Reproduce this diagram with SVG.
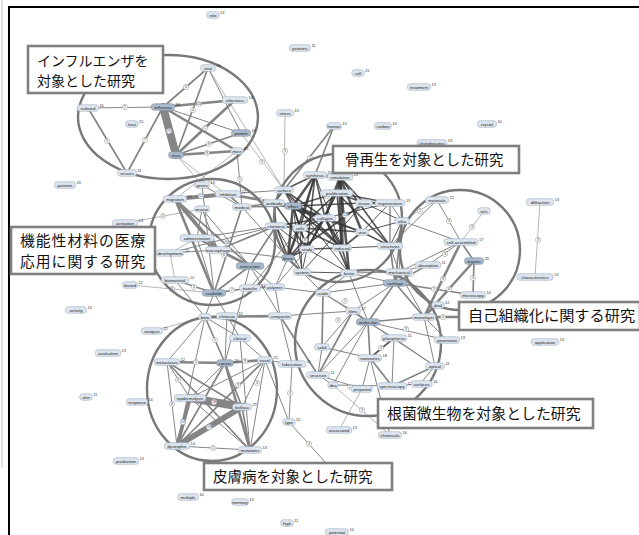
<svg xmlns="http://www.w3.org/2000/svg" width="639" height="535" viewBox="0 0 639 535">
<style>
.e line{stroke:#858585;stroke-linecap:round}
.e line.k{stroke:#333;stroke-opacity:.82}
.w0{stroke-width:.6}.w1{stroke-width:1}.w2{stroke-width:1.7}.w3{stroke-width:2.6}.w4{stroke-width:3.8}.w6{stroke-width:6}.w8{stroke-width:8}
.el circle{fill:#fff;stroke:#8a8a8a;stroke-width:.5}
.el text{font-family:"Liberation Sans",Arial,sans-serif;font-size:3.4px;fill:#333;text-anchor:middle}
.n rect{fill:#dde5ee;stroke:#9fb0c2;stroke-width:.6}
.n.d rect{fill:#a9b9cb;stroke:#7f93a8}
.n text{font-family:"Liberation Sans",Arial,sans-serif;font-size:4.3px;fill:#1c1c1c}
.n text.l{text-anchor:middle}
.n text.f{font-size:4px;fill:#333}
.ring{fill:none;stroke:#787878;stroke-width:2.4}
.box rect{fill:#fff;stroke:#808080;stroke-width:2.6}
.box text{font-family:"Noto Sans CJK JP","Noto Sans CJK SC",sans-serif;fill:#111}
</style>
<rect width="639" height="535" fill="#fff"/>
<line x1="2" y1="0" x2="2" y2="468" stroke="#c4c4c4" stroke-width="1"/>
<path d="M639 7H9V535" fill="none" stroke="#000" stroke-width="2"/>

<g id="connectors" class="e">
<line class="w1" x1="88" y1="108" x2="163" y2="107"/>
<line class="w2" x1="88" y1="108" x2="127" y2="173"/>
<line class="w2" x1="127" y1="173" x2="163" y2="107"/>
<line class="w2" x1="163" y1="107" x2="208" y2="68"/>
<line class="w3" x1="163" y1="107" x2="235" y2="100"/>
<line class="w1" x1="163" y1="107" x2="241" y2="133"/>
<line class="w3" x1="163" y1="107" x2="237" y2="151"/>
<line class="w8" x1="163" y1="107" x2="176" y2="155"/>
<line class="w2" x1="208" y1="68" x2="176" y2="155"/>
<line class="w1" x1="208" y1="68" x2="241" y2="133"/>
<line class="w0" x1="208" y1="68" x2="284" y2="190"/>
<line class="w3" x1="235" y1="100" x2="176" y2="155"/>
<line class="w2" x1="241" y1="133" x2="176" y2="155"/>
<line class="w3" x1="237" y1="151" x2="176" y2="155"/>
<line class="w0" x1="176" y1="155" x2="202" y2="185"/>
<line class="w0" x1="176" y1="155" x2="242" y2="207"/>
<line class="w1" x1="237" y1="151" x2="242" y2="207"/>
<line class="w0" x1="237" y1="151" x2="175" y2="199"/>
<line class="w0" x1="241" y1="133" x2="284" y2="190"/>
<line class="w0" x1="285" y1="113" x2="284" y2="190"/>
<line class="w2" x1="334" y1="126" x2="315" y2="175"/>
<line class="w2" x1="334" y1="126" x2="284" y2="190"/>

<line class="w4" x1="175" y1="199" x2="228" y2="194"/>
<line class="w4" x1="175" y1="199" x2="218" y2="250"/>
<line class="w2" x1="175" y1="199" x2="250" y2="266"/>
<line class="w3" x1="175" y1="199" x2="214" y2="293"/>
<line class="w2" x1="228" y1="194" x2="242" y2="207"/>
<line class="w3" x1="228" y1="194" x2="293" y2="206"/>
<line class="w1" x1="228" y1="194" x2="284" y2="190"/>
<line class="w1" x1="202" y1="185" x2="242" y2="207"/>
<line class="w1" x1="202" y1="185" x2="214" y2="293"/>
<line class="w1" x1="202" y1="209" x2="218" y2="250"/>
<line class="w1" x1="202" y1="209" x2="197" y2="238"/>
<line class="w0" x1="125" y1="223" x2="202" y2="209"/>
<line class="w1" x1="202" y1="209" x2="250" y2="266"/>
<line class="w2" x1="242" y1="207" x2="293" y2="206"/>
<line class="w2" x1="242" y1="207" x2="214" y2="293"/>
<line class="w2" x1="242" y1="207" x2="274" y2="203"/>
<line class="w1" x1="242" y1="207" x2="288" y2="258"/>
<line class="w2" x1="197" y1="238" x2="218" y2="250"/>
<line class="w2" x1="197" y1="238" x2="250" y2="266"/>
<line class="w1" x1="197" y1="238" x2="214" y2="293"/>
<line class="w1" x1="197" y1="238" x2="276" y2="226"/>
<line class="w0" x1="170" y1="253" x2="197" y2="238"/>
<line class="w1" x1="170" y1="253" x2="218" y2="250"/>
<line class="w0" x1="170" y1="253" x2="175" y2="280"/>
<line class="w1" x1="170" y1="253" x2="276" y2="226"/>
<line class="w2" x1="175" y1="280" x2="214" y2="293"/>
<line class="w0" x1="130" y1="285" x2="214" y2="293"/>
<line class="w2" x1="214" y1="293" x2="250" y2="288"/>
<line class="w2" x1="214" y1="293" x2="250" y2="266"/>
<line class="w2" x1="250" y1="288" x2="275" y2="287"/>
<line class="w1" x1="250" y1="266" x2="275" y2="287"/>
<line class="w2" x1="250" y1="266" x2="276" y2="226"/>
<line class="w3" x1="218" y1="250" x2="250" y2="266"/>
<line class="w2" x1="218" y1="250" x2="276" y2="226"/>
<line class="w1" x1="218" y1="250" x2="288" y2="258"/>
<line class="w1" x1="250" y1="288" x2="300" y2="228"/>
<line class="w1" x1="275" y1="287" x2="288" y2="258"/>
<line class="w1" x1="275" y1="287" x2="307" y2="249"/>
<line class="w1" x1="275" y1="287" x2="280" y2="316"/>
<line class="w1" x1="250" y1="266" x2="280" y2="316"/>
<line class="w1" x1="214" y1="293" x2="205" y2="317"/>
<line class="w1" x1="175" y1="280" x2="205" y2="317"/>
<line class="w1" x1="214" y1="293" x2="240" y2="338"/>
<line class="w1" x1="250" y1="266" x2="225" y2="363"/>

<line class="k w3" x1="315" y1="175" x2="340" y2="177"/>
<line class="k w3" x1="315" y1="175" x2="293" y2="206"/>
<line class="k w2" x1="315" y1="175" x2="325" y2="218"/>
<line class="k w2" x1="315" y1="175" x2="300" y2="228"/>
<line class="k w2" x1="315" y1="175" x2="307" y2="249"/>
<line class="k w2" x1="315" y1="175" x2="288" y2="258"/>
<line class="k w1" x1="315" y1="175" x2="342" y2="248"/>
<line class="k w2" x1="315" y1="175" x2="284" y2="190"/>
<line class="k w3" x1="340" y1="177" x2="325" y2="218"/>
<line class="k w4" x1="340" y1="177" x2="342" y2="248"/>
<line class="k w3" x1="340" y1="177" x2="362" y2="232"/>
<line class="k w2" x1="340" y1="177" x2="390" y2="246"/>
<line class="k w2" x1="340" y1="177" x2="364" y2="203"/>
<line class="k w2" x1="340" y1="177" x2="337" y2="193"/>
<line class="k w3" x1="340" y1="177" x2="349" y2="273"/>
<line class="k w2" x1="337" y1="193" x2="364" y2="203"/>
<line class="k w2" x1="337" y1="193" x2="390" y2="203"/>
<line class="k w2" x1="337" y1="193" x2="293" y2="206"/>
<line class="k w2" x1="337" y1="193" x2="300" y2="228"/>
<line class="k w2" x1="337" y1="193" x2="307" y2="249"/>
<line class="k w2" x1="337" y1="193" x2="342" y2="248"/>
<line class="k w2" x1="337" y1="193" x2="390" y2="246"/>
<line class="k w3" x1="364" y1="203" x2="390" y2="203"/>
<line class="k w2" x1="364" y1="203" x2="288" y2="258"/>
<line class="k w1" x1="364" y1="203" x2="302" y2="272"/>
<line class="k w2" x1="364" y1="203" x2="293" y2="206"/>
<line class="k w1" x1="390" y1="203" x2="325" y2="218"/>
<line class="k w1" x1="390" y1="203" x2="362" y2="232"/>
<line class="k w2" x1="284" y1="190" x2="293" y2="206"/>
<line class="k w2" x1="284" y1="190" x2="274" y2="203"/>
<line class="k w2" x1="284" y1="190" x2="325" y2="218"/>
<line class="k w2" x1="284" y1="190" x2="342" y2="248"/>
<line class="k w1" x1="284" y1="190" x2="349" y2="273"/>
<line class="k w2" x1="274" y1="203" x2="293" y2="206"/>
<line class="k w2" x1="274" y1="203" x2="276" y2="226"/>
<line class="k w2" x1="274" y1="203" x2="325" y2="218"/>
<line class="k w1" x1="274" y1="203" x2="362" y2="232"/>
<line class="k w2" x1="274" y1="203" x2="307" y2="249"/>
<line class="k w3" x1="293" y1="206" x2="325" y2="218"/>
<line class="k w2" x1="293" y1="206" x2="300" y2="228"/>
<line class="k w2" x1="293" y1="206" x2="307" y2="249"/>
<line class="k w3" x1="293" y1="206" x2="288" y2="258"/>
<line class="k w2" x1="293" y1="206" x2="342" y2="248"/>
<line class="k w1" x1="293" y1="206" x2="302" y2="272"/>
<line class="k w2" x1="276" y1="226" x2="300" y2="228"/>
<line class="k w2" x1="276" y1="226" x2="288" y2="258"/>
<line class="k w1" x1="276" y1="226" x2="307" y2="249"/>
<line class="k w1" x1="276" y1="226" x2="302" y2="272"/>
<line class="k w2" x1="276" y1="226" x2="325" y2="218"/>
<line class="k w2" x1="325" y1="218" x2="300" y2="228"/>
<line class="k w2" x1="325" y1="218" x2="307" y2="249"/>
<line class="k w3" x1="325" y1="218" x2="342" y2="248"/>
<line class="k w2" x1="325" y1="218" x2="362" y2="232"/>
<line class="k w2" x1="325" y1="218" x2="349" y2="273"/>
<line class="k w2" x1="325" y1="218" x2="288" y2="258"/>
<line class="k w2" x1="300" y1="228" x2="307" y2="249"/>
<line class="k w2" x1="300" y1="228" x2="288" y2="258"/>
<line class="k w2" x1="300" y1="228" x2="342" y2="248"/>
<line class="k w1" x1="300" y1="228" x2="302" y2="272"/>
<line class="k w2" x1="300" y1="228" x2="362" y2="232"/>
<line class="k w2" x1="307" y1="249" x2="342" y2="248"/>
<line class="k w2" x1="307" y1="249" x2="288" y2="258"/>
<line class="k w1" x1="307" y1="249" x2="302" y2="272"/>
<line class="k w1" x1="307" y1="249" x2="349" y2="273"/>
<line class="k w2" x1="342" y1="248" x2="362" y2="232"/>
<line class="k w2" x1="342" y1="248" x2="349" y2="273"/>
<line class="k w1" x1="342" y1="248" x2="390" y2="246"/>
<line class="k w1" x1="288" y1="258" x2="302" y2="272"/>
<line class="k w2" x1="362" y1="232" x2="390" y2="246"/>
<line class="k w1" x1="362" y1="232" x2="402" y2="221"/>
<line class="k w1" x1="402" y1="221" x2="390" y2="246"/>
<line class="k w1" x1="390" y1="246" x2="390" y2="203"/>
<line class="k w1" x1="349" y1="273" x2="302" y2="272"/>
<line class="k w1" x1="364" y1="203" x2="402" y2="221"/>

<line class="w1" x1="390" y1="203" x2="402" y2="221"/>
<line class="w2" x1="402" y1="221" x2="395" y2="283"/>
<line class="w1" x1="402" y1="221" x2="399" y2="272"/>
<line class="w1" x1="390" y1="246" x2="399" y2="272"/>
<line class="w2" x1="390" y1="246" x2="395" y2="283"/>
<line class="w1" x1="349" y1="273" x2="395" y2="283"/>
<line class="w1" x1="349" y1="273" x2="399" y2="272"/>
<line class="w1" x1="437" y1="200" x2="390" y2="246"/>
<line class="w1" x1="437" y1="200" x2="461" y2="242"/>
<line class="w0" x1="437" y1="200" x2="402" y2="221"/>
<line class="w0" x1="484" y1="211" x2="461" y2="242"/>
<line class="w2" x1="461" y1="242" x2="474" y2="261"/>
<line class="w1" x1="461" y1="242" x2="428" y2="265"/>
<line class="w1" x1="461" y1="242" x2="399" y2="272"/>
<line class="w3" x1="461" y1="242" x2="424" y2="317"/>
<line class="w3" x1="474" y1="261" x2="424" y2="317"/>
<line class="w2" x1="474" y1="261" x2="473" y2="295"/>
<line class="w2" x1="428" y1="265" x2="395" y2="283"/>
<line class="w1" x1="428" y1="265" x2="399" y2="272"/>
<line class="w2" x1="395" y1="283" x2="473" y2="295"/>
<line class="w2" x1="395" y1="283" x2="424" y2="317"/>
<line class="w1" x1="395" y1="283" x2="353" y2="311"/>
<line class="w2" x1="395" y1="283" x2="368" y2="322"/>
<line class="w1" x1="395" y1="283" x2="323" y2="293"/>
<line class="w1" x1="399" y1="272" x2="424" y2="317"/>
<line class="w1" x1="438" y1="305" x2="424" y2="317"/>
<line class="w3" x1="424" y1="317" x2="459" y2="317"/>
<line class="w0" x1="540" y1="202" x2="535" y2="277"/>
<line class="w2" x1="399" y1="272" x2="395" y2="283"/>
<line class="w1" x1="402" y1="221" x2="461" y2="242"/>

<line class="w2" x1="353" y1="311" x2="368" y2="322"/>
<line class="w1" x1="353" y1="311" x2="323" y2="293"/>
<line class="w1" x1="353" y1="311" x2="322" y2="347"/>
<line class="w2" x1="353" y1="311" x2="318" y2="375"/>
<line class="w1" x1="368" y1="322" x2="394" y2="338"/>
<line class="w2" x1="368" y1="322" x2="370" y2="358"/>
<line class="w1" x1="368" y1="322" x2="447" y2="340"/>
<line class="w2" x1="368" y1="322" x2="424" y2="317"/>
<line class="w1" x1="368" y1="322" x2="333" y2="385"/>
<line class="w1" x1="368" y1="322" x2="318" y2="375"/>
<line class="w1" x1="368" y1="322" x2="435" y2="366"/>
<line class="k w2" x1="394" y1="338" x2="370" y2="358"/>
<line class="w1" x1="394" y1="338" x2="435" y2="366"/>
<line class="w1" x1="394" y1="338" x2="392" y2="386"/>
<line class="w2" x1="370" y1="358" x2="392" y2="386"/>
<line class="w1" x1="370" y1="358" x2="390" y2="435"/>
<line class="w1" x1="370" y1="358" x2="322" y2="347"/>
<line class="w2" x1="435" y1="366" x2="392" y2="386"/>
<line class="w1" x1="435" y1="366" x2="424" y2="317"/>
<line class="w1" x1="447" y1="340" x2="424" y2="317"/>
<line class="w1" x1="392" y1="386" x2="333" y2="385"/>
<line class="w1" x1="392" y1="386" x2="420" y2="384"/>
<line class="w0" x1="362" y1="389" x2="339" y2="430"/>
<line class="w0" x1="333" y1="385" x2="390" y2="435"/>
<line class="w1" x1="318" y1="375" x2="333" y2="385"/>
<line class="w1" x1="318" y1="375" x2="322" y2="347"/>
<line class="w2" x1="322" y1="347" x2="323" y2="293"/>
<line class="w1" x1="323" y1="293" x2="302" y2="272"/>
<line class="w1" x1="323" y1="293" x2="275" y2="287"/>
<line class="w1" x1="318" y1="375" x2="362" y2="389"/>
<line class="w1" x1="370" y1="358" x2="362" y2="389"/>
<line class="w1" x1="280" y1="316" x2="353" y2="311"/>
<line class="w2" x1="280" y1="316" x2="318" y2="375"/>
<line class="w1" x1="323" y1="293" x2="368" y2="322"/>
<line class="w1" x1="349" y1="273" x2="323" y2="293"/>
<line class="w1" x1="349" y1="273" x2="368" y2="322"/>
<line class="w1" x1="420" y1="384" x2="435" y2="366"/>

<line class="w3" x1="167" y1="362" x2="225" y2="363"/>
<line class="w3" x1="225" y1="363" x2="265" y2="360"/>
<line class="w1" x1="265" y1="360" x2="292" y2="364"/>
<line class="w1" x1="167" y1="362" x2="190" y2="398"/>
<line class="w1" x1="167" y1="362" x2="177" y2="446"/>
<line class="w2" x1="167" y1="362" x2="242" y2="407"/>
<line class="w2" x1="167" y1="362" x2="250" y2="450"/>
<line class="w1" x1="225" y1="363" x2="190" y2="398"/>
<line class="w2" x1="225" y1="363" x2="242" y2="407"/>
<line class="w2" x1="225" y1="363" x2="177" y2="446"/>
<line class="w3" x1="225" y1="363" x2="250" y2="450"/>
<line class="w1" x1="265" y1="360" x2="242" y2="407"/>
<line class="w2" x1="265" y1="360" x2="177" y2="446"/>
<line class="w1" x1="265" y1="360" x2="250" y2="450"/>
<line class="w1" x1="265" y1="360" x2="190" y2="398"/>
<line class="w2" x1="205" y1="317" x2="225" y2="363"/>
<line class="w1" x1="205" y1="317" x2="167" y2="362"/>
<line class="w1" x1="205" y1="317" x2="240" y2="338"/>
<line class="w1" x1="205" y1="317" x2="177" y2="446"/>
<line class="w1" x1="227" y1="316" x2="225" y2="363"/>
<line class="w1" x1="240" y1="338" x2="250" y2="450"/>
<line class="w1" x1="240" y1="338" x2="265" y2="360"/>
<line class="w3" x1="205" y1="317" x2="280" y2="316"/>
<line class="w1" x1="177" y1="446" x2="250" y2="450"/>
<line class="w1" x1="190" y1="398" x2="250" y2="450"/>
<line class="w2" x1="242" y1="407" x2="250" y2="450"/>
<line class="w8" x1="190" y1="398" x2="242" y2="407"/>
<line class="w6" x1="242" y1="407" x2="177" y2="446"/>
<line class="w4" x1="190" y1="398" x2="177" y2="446"/>
<line class="w0" x1="152" y1="331" x2="205" y2="317"/>
<line class="w1" x1="280" y1="316" x2="292" y2="364"/>
<line class="w1" x1="289" y1="422" x2="292" y2="364"/>
<line class="w1" x1="289" y1="422" x2="265" y2="360"/>
<line class="w1" x1="289" y1="422" x2="326" y2="463"/>
</g>

<g id="edge-labels" class="el">
<circle cx="125" cy="107" r="2.6"/><text x="125" y="108.2">5</text>
<circle cx="107" cy="141" r="2.6"/><text x="107" y="142.2">5</text>
<circle cx="145" cy="140" r="2.6"/><text x="145" y="141.2">7</text>
<circle cx="186" cy="87" r="2.6"/><text x="186" y="88.2">6</text>
<circle cx="199" cy="104" r="2.6"/><text x="199" y="105.2">10</text>
<circle cx="169" cy="131" r="2.8"/><text x="169" y="132.2">25</text>
<circle cx="205" cy="128" r="2.6"/><text x="205" y="129.2">5</text>
<circle cx="209" cy="144" r="2.6"/><text x="209" y="145.2">8</text>
<circle cx="207" cy="153" r="2.6"/><text x="207" y="154.2">8</text>
<circle cx="193" cy="110" r="2.6"/><text x="193" y="111.2">4</text>
<circle cx="262" cy="162" r="2.6"/><text x="262" y="163.2">3</text>
<circle cx="285" cy="151" r="2.6"/><text x="285" y="152.2">3</text>
<circle cx="240" cy="179" r="2.6"/><text x="240" y="180.2">5</text>
<circle cx="310" cy="158" r="2.6"/><text x="310" y="159.2">2</text>
<circle cx="201" cy="196" r="2.8"/><text x="201" y="197.2">12</text>
<circle cx="163" cy="216" r="2.6"/><text x="163" y="217.2">4</text>
<circle cx="172" cy="289" r="2.6"/><text x="172" y="290.2">3</text>
<circle cx="194" cy="287" r="2.6"/><text x="194" y="288.2">3</text>
<circle cx="260" cy="200" r="2.6"/><text x="260" y="201.2">6</text>
<circle cx="224" cy="255" r="2.6"/><text x="224" y="256.2">6</text>
<circle cx="232" cy="290" r="2.6"/><text x="232" y="291.2">2</text>
<circle cx="227" cy="243" r="2.6"/><text x="227" y="244.2">10</text>
<circle cx="327" cy="196" r="2.6"/><text x="327" y="197.2">15</text>
<circle cx="345" cy="215" r="2.6"/><text x="345" y="216.2">12</text>
<circle cx="305" cy="240" r="2.6"/><text x="305" y="241.2">8</text>
<circle cx="449" cy="221" r="2.6"/><text x="449" y="222.2">3</text>
<circle cx="472" cy="227" r="2.6"/><text x="472" y="228.2">3</text>
<circle cx="445" cy="254" r="2.6"/><text x="445" y="255.2">3</text>
<circle cx="411" cy="274" r="2.6"/><text x="411" y="275.2">2</text>
<circle cx="443" cy="279" r="2.6"/><text x="443" y="280.2">8</text>
<circle cx="449" cy="289" r="2.6"/><text x="449" y="290.2">6</text>
<circle cx="473" cy="278" r="2.6"/><text x="473" y="279.2">3</text>
<circle cx="434" cy="289" r="2.6"/><text x="434" y="290.2">5</text>
<circle cx="443" cy="317" r="2.6"/><text x="443" y="318.2">4</text>
<circle cx="538" cy="240" r="2.6"/><text x="538" y="241.2">3</text>
<circle cx="420" cy="211" r="2.6"/><text x="420" y="212.2">2</text>
<circle cx="338" cy="320" r="2.6"/><text x="338" y="321.2">4</text>
<circle cx="381" cy="348" r="2.6"/><text x="381" y="349.2">3</text>
<circle cx="350" cy="387" r="2.6"/><text x="350" y="388.2">2</text>
<circle cx="362" cy="410" r="2.6"/><text x="362" y="411.2">3</text>
<circle cx="345" cy="301" r="2.6"/><text x="345" y="302.2">2</text>
<circle cx="406" cy="329" r="2.6"/><text x="406" y="330.2">3</text>
<circle cx="196" cy="362" r="2.6"/><text x="196" y="363.2">5</text>
<circle cx="245" cy="361" r="2.6"/><text x="245" y="362.2">8</text>
<circle cx="214" cy="402" r="2.8"/><text x="214" y="403.2">28</text>
<circle cx="209" cy="427" r="2.8"/><text x="209" y="428.2">19</text>
<circle cx="183" cy="422" r="2.8"/><text x="183" y="423.2">14</text>
<circle cx="213" cy="448" r="2.6"/><text x="213" y="449.2">5</text>
<circle cx="178" cy="380" r="2.6"/><text x="178" y="381.2">4</text>
<circle cx="172" cy="404" r="2.6"/><text x="172" y="405.2">4</text>
<circle cx="238" cy="385" r="2.6"/><text x="238" y="386.2">3</text>
<circle cx="257" cy="383" r="2.6"/><text x="257" y="384.2">3</text>
<circle cx="215" cy="340" r="2.6"/><text x="215" y="341.2">5</text>
<circle cx="309" cy="444" r="2.6"/><text x="309" y="445.2">4</text>
<circle cx="290" cy="393" r="2.6"/><text x="290" y="394.2">4</text>
</g>

<g id="clusters">
<ellipse class="ring" cx="168" cy="117" rx="90" ry="62"/>
<circle class="ring" cx="212" cy="242" r="63"/>
<circle class="ring" cx="338" cy="218" r="64"/>
<circle class="ring" cx="460" cy="250" r="60"/>
<circle class="ring" cx="368" cy="343" r="73"/>
<ellipse class="ring" cx="212" cy="389" rx="65" ry="72"/>
</g>

<g id="nodes">
<g id="n-role" class="n"><rect x="206.7" y="11.7" width="12.6" height="6.6" rx="3"/><text class="l" x="213" y="16.5">role</text><text class="f" x="220.1" y="13.8">13</text></g>
<g id="n-proteins" class="n"><rect x="289.4" y="44.7" width="21.2" height="6.6" rx="3"/><text class="l" x="300" y="49.5">proteins</text><text class="f" x="311.4" y="46.8">11</text></g>
<g id="n-cell" class="n"><rect x="351.7" y="69.7" width="12.6" height="6.6" rx="3"/><text class="l" x="358" y="74.5">cell</text><text class="f" x="365.1" y="71.8">15</text></g>
<g id="n-treatment" class="n"><rect x="407.3" y="83.7" width="23.4" height="6.6" rx="3"/><text class="l" x="419" y="88.5">treatment</text><text class="f" x="431.5" y="85.8">13</text></g>
<g id="n-human" class="n"><rect x="326.6" y="122.7" width="14.8" height="6.6" rx="3"/><text class="l" x="334" y="127.5">human</text><text class="f" x="342.2" y="124.8">13</text></g>
<g id="n-carbon" class="n"><rect x="374.6" y="122.7" width="16.9" height="6.6" rx="3"/><text class="l" x="383" y="127.5">carbon</text><text class="f" x="392.3" y="124.8">14</text></g>
<g id="n-crystal" class="n"><rect x="477.5" y="120.7" width="19.1" height="6.6" rx="3"/><text class="l" x="487" y="125.5">crystal</text><text class="f" x="497.4" y="122.8">10</text></g>
<g id="n-stress" class="n"><rect x="276.6" y="109.7" width="16.9" height="6.6" rx="3"/><text class="l" x="285" y="114.5">stress</text><text class="f" x="294.3" y="111.8">13</text></g>
<g id="n-chondrocytes" class="n"><rect x="417.1" y="139.7" width="29.8" height="6.6" rx="3"/><text class="l" x="432" y="144.5">chondrocytes</text><text class="f" x="447.7" y="141.8">13</text></g>
<g id="n-viral" class="n"><rect x="200.6" y="64.7" width="14.8" height="6.6" rx="3"/><text class="l" x="208" y="69.5">viral</text><text class="f" x="216.2" y="66.8">10</text></g>
<g id="n-influenza" class="n d"><rect x="151.3" y="103.7" width="23.4" height="6.6" rx="3"/><text class="l" x="163" y="108.5">influenza</text><text class="f" x="175.5" y="105.8">34</text></g>
<g id="n-isolated" class="n"><rect x="77.4" y="104.7" width="21.2" height="6.6" rx="3"/><text class="l" x="88" y="109.5">isolated</text><text class="f" x="99.4" y="106.8">10</text></g>
<g id="n-infectious" class="n"><rect x="222.3" y="96.7" width="25.5" height="6.6" rx="3"/><text class="l" x="235" y="101.5">infectious</text><text class="f" x="248.6" y="98.8">14</text></g>
<g id="n-host" class="n"><rect x="125.7" y="120.7" width="12.6" height="6.6" rx="3"/><text class="l" x="132" y="125.5">host</text><text class="f" x="139.1" y="122.8">15</text></g>
<g id="n-protein" class="n d"><rect x="231.5" y="129.7" width="19.1" height="6.6" rx="3"/><text class="l" x="241" y="134.5">protein</text><text class="f" x="251.4" y="131.8">16</text></g>
<g id="n-virus" class="n d"><rect x="168.6" y="151.7" width="14.8" height="6.6" rx="3"/><text class="l" x="176" y="156.5">virus</text></g>
<g id="n-mice" class="n"><rect x="230.7" y="147.7" width="12.6" height="6.6" rx="3"/><text class="l" x="237" y="152.5">mice</text><text class="f" x="244.1" y="149.8">15</text></g>
<g id="n-viruses" class="n"><rect x="117.5" y="169.7" width="19.1" height="6.6" rx="3"/><text class="l" x="127" y="174.5">viruses</text><text class="f" x="137.4" y="171.8">11</text></g>
<g id="n-patients" class="n"><rect x="54.4" y="181.7" width="21.2" height="6.6" rx="3"/><text class="l" x="65" y="186.5">patients</text><text class="f" x="76.4" y="183.8">13</text></g>
<g id="n-activation" class="n"><rect x="112.3" y="219.7" width="25.5" height="6.6" rx="3"/><text class="l" x="125" y="224.5">activation</text><text class="f" x="138.6" y="221.8">13</text></g>
<g id="n-based" class="n"><rect x="122.6" y="281.7" width="14.8" height="6.6" rx="3"/><text class="l" x="130" y="286.5">based</text><text class="f" x="138.2" y="283.8">12</text></g>
<g id="n-activity" class="n"><rect x="65.4" y="306.7" width="21.2" height="6.6" rx="3"/><text class="l" x="76" y="311.5">activity</text><text class="f" x="87.4" y="308.8">13</text></g>
<g id="n-analysis" class="n"><rect x="141.4" y="327.7" width="21.2" height="6.6" rx="3"/><text class="l" x="152" y="332.5">analysis</text><text class="f" x="163.4" y="329.8">22</text></g>
<g id="n-evaluation" class="n"><rect x="95.3" y="349.7" width="25.5" height="6.6" rx="3"/><text class="l" x="108" y="354.5">evaluation</text><text class="f" x="121.6" y="351.8">13</text></g>
<g id="n-skin" class="n"><rect x="79.7" y="393.7" width="12.6" height="6.6" rx="3"/><text class="l" x="86" y="398.5">skin</text><text class="f" x="93.1" y="395.8">11</text></g>
<g id="n-response" class="n"><rect x="126.4" y="398.7" width="21.2" height="6.6" rx="3"/><text class="l" x="137" y="403.5">response</text><text class="f" x="148.4" y="400.8">14</text></g>
<g id="n-production" class="n"><rect x="113.3" y="457.7" width="25.5" height="6.6" rx="3"/><text class="l" x="126" y="462.5">production</text><text class="f" x="139.6" y="459.8">13</text></g>
<g id="n-multiple" class="n"><rect x="177.4" y="493.7" width="21.2" height="6.6" rx="3"/><text class="l" x="188" y="498.5">multiple</text><text class="f" x="199.4" y="495.8">10</text></g>
<g id="n-memory" class="n"><rect x="231.6" y="498.7" width="16.9" height="6.6" rx="3"/><text class="l" x="240" y="503.5">memory</text><text class="f" x="249.3" y="500.8">13</text></g>
<g id="n-high" class="n"><rect x="280.7" y="519.7" width="12.6" height="6.6" rx="3"/><text class="l" x="287" y="524.5">high</text><text class="f" x="294.1" y="521.8">11</text></g>
<g id="n-potential" class="n"><rect x="325.3" y="528.7" width="23.4" height="6.6" rx="3"/><text class="l" x="337" y="533.5">potential</text><text class="f" x="349.5" y="530.8">10</text></g>

<g id="n-genes" class="n"><rect x="194.6" y="181.7" width="14.8" height="6.6" rx="3"/><text class="l" x="202" y="186.5">genes</text><text class="f" x="210.2" y="183.8">13</text></g>
<g id="n-migration" class="n"><rect x="163.3" y="195.7" width="23.4" height="6.6" rx="3"/><text class="l" x="175" y="200.5">migration</text><text class="f" x="187.5" y="197.8">15</text></g>
<g id="n-inhibition" class="n"><rect x="215.3" y="190.7" width="25.5" height="6.6" rx="3"/><text class="l" x="228" y="195.5">inhibition</text><text class="f" x="241.6" y="192.8">12</text></g>
<g id="n-mouse" class="n"><rect x="194.6" y="205.7" width="14.8" height="6.6" rx="3"/><text class="l" x="202" y="210.5">mouse</text></g>
<g id="n-medical" class="n"><rect x="232.5" y="203.7" width="19.1" height="6.6" rx="3"/><text class="l" x="242" y="208.5">medical</text></g>
<g id="n-administration" class="n"><rect x="180" y="234.7" width="34.1" height="6.6" rx="3"/><text class="l" x="197" y="239.5">administration</text><text class="f" x="215" y="236.8">12</text></g>
<g id="n-development" class="n"><rect x="156.2" y="249.7" width="27.7" height="6.6" rx="3"/><text class="l" x="170" y="254.5">development</text><text class="f" x="184.7" y="251.8">12</text></g>
<g id="n-macrophage" class="n"><rect x="205.3" y="246.7" width="25.5" height="6.6" rx="3"/><text class="l" x="218" y="251.5">macrophage</text></g>
<g id="n-biomaterial" class="n"><rect x="161.2" y="276.7" width="27.7" height="6.6" rx="3"/><text class="l" x="175" y="281.5">biomaterial</text><text class="f" x="189.7" y="278.8">12</text></g>
<g id="n-scaffolds" class="n d"><rect x="202.3" y="289.7" width="23.4" height="6.6" rx="3"/><text class="l" x="214" y="294.5">scaffolds</text></g>
<g id="n-interaction" class="n d"><rect x="236.2" y="262.7" width="27.7" height="6.6" rx="3"/><text class="l" x="250" y="267.5">interaction</text></g>
<g id="n-transfer" class="n"><rect x="239.4" y="284.7" width="21.2" height="6.6" rx="3"/><text class="l" x="250" y="289.5">transfer</text><text class="f" x="261.4" y="286.8">11</text></g>
<g id="n-polymer" class="n"><rect x="265.5" y="283.7" width="19.1" height="6.6" rx="3"/><text class="l" x="275" y="288.5">polymer</text></g>

<g id="n-surface" class="n"><rect x="274.5" y="186.7" width="19.1" height="6.6" rx="3"/><text class="l" x="284" y="191.5">surface</text></g>
<g id="n-synthesis" class="n"><rect x="303.3" y="171.7" width="23.4" height="6.6" rx="3"/><text class="l" x="315" y="176.5">synthesis</text><text class="f" x="327.5" y="173.8">20</text></g>
<g id="n-simulation" class="n"><rect x="327.3" y="173.7" width="25.5" height="6.6" rx="3"/><text class="l" x="340" y="178.5">simulation</text><text class="f" x="353.6" y="175.8">23</text></g>
<g id="n-antibody" class="n"><rect x="263.4" y="199.7" width="21.2" height="6.6" rx="3"/><text class="l" x="274" y="204.5">antibody</text></g>
<g id="n-effect" class="n d"><rect x="284.6" y="202.7" width="16.9" height="6.6" rx="3"/><text class="l" x="293" y="207.5">effect</text></g>
<g id="n-chemical" class="n"><rect x="265.4" y="222.7" width="21.2" height="6.6" rx="3"/><text class="l" x="276" y="227.5">chemical</text></g>
<g id="n-proliferation" class="n"><rect x="321" y="189.7" width="32" height="6.6" rx="3"/><text class="l" x="337" y="194.5">proliferation</text></g>
<g id="n-tissue" class="n"><rect x="355.6" y="199.7" width="16.9" height="6.6" rx="3"/><text class="l" x="364" y="204.5">tissue</text></g>
<g id="n-regeneration" class="n"><rect x="375.1" y="199.7" width="29.8" height="6.6" rx="3"/><text class="l" x="390" y="204.5">regeneration</text><text class="f" x="405.7" y="201.8">13</text></g>
<g id="n-collagen" class="n"><rect x="314.4" y="214.7" width="21.2" height="6.6" rx="3"/><text class="l" x="325" y="219.5">collagen</text></g>
<g id="n-cells" class="n"><rect x="292.6" y="224.7" width="14.8" height="6.6" rx="3"/><text class="l" x="300" y="229.5">cells</text></g>
<g id="n-induced" class="n"><rect x="332.5" y="244.7" width="19.1" height="6.6" rx="3"/><text class="l" x="342" y="249.5">induced</text></g>
<g id="n-study" class="n"><rect x="299.6" y="245.7" width="14.8" height="6.6" rx="3"/><text class="l" x="307" y="250.5">study</text></g>
<g id="n-bone" class="n d"><rect x="281.7" y="254.7" width="12.6" height="6.6" rx="3"/><text class="l" x="288" y="259.5">bone</text></g>
<g id="n-factor" class="n"><rect x="340.6" y="269.7" width="16.9" height="6.6" rx="3"/><text class="l" x="349" y="274.5">factor</text></g>
<g id="n-system" class="n"><rect x="293.6" y="268.7" width="16.9" height="6.6" rx="3"/><text class="l" x="302" y="273.5">system</text></g>
<g id="n-vivo" class="n"><rect x="355.7" y="228.7" width="12.6" height="6.6" rx="3"/><text class="l" x="362" y="233.5">vivo</text></g>
<g id="n-ultra" class="n"><rect x="394.6" y="217.7" width="14.8" height="6.6" rx="3"/><text class="l" x="402" y="222.5">ultra</text></g>
<g id="n-structures" class="n"><rect x="377.3" y="242.7" width="25.5" height="6.6" rx="3"/><text class="l" x="390" y="247.5">structures</text></g>
<g id="n-mechanical" class="n"><rect x="386.3" y="268.7" width="25.5" height="6.6" rx="3"/><text class="l" x="399" y="273.5">mechanical</text></g>
<g id="n-cartilage" class="n d"><rect x="383.3" y="279.7" width="23.4" height="6.6" rx="3"/><text class="l" x="395" y="284.5">cartilage</text></g>

<g id="n-materials" class="n"><rect x="425.3" y="196.7" width="23.4" height="6.6" rx="3"/><text class="l" x="437" y="201.5">materials</text><text class="f" x="449.5" y="198.8">12</text></g>
<g id="n-rats" class="n"><rect x="477.7" y="207.7" width="12.6" height="6.6" rx="3"/><text class="l" x="484" y="212.5">rats</text></g>
<g id="n-self-assembled" class="n"><rect x="444" y="238.7" width="34.1" height="6.6" rx="3"/><text class="l" x="461" y="243.5">self-assembled</text><text class="f" x="479" y="240.8">17</text></g>
<g id="n-organic" class="n d"><rect x="464.5" y="257.7" width="19.1" height="6.6" rx="3"/><text class="l" x="474" y="262.5">organic</text><text class="f" x="484.4" y="259.8">23</text></g>
<g id="n-absorption" class="n"><rect x="415.3" y="261.7" width="25.5" height="6.6" rx="3"/><text class="l" x="428" y="266.5">absorption</text><text class="f" x="441.6" y="263.8">11</text></g>
<g id="n-microscopy" class="n"><rect x="460.3" y="291.7" width="25.5" height="6.6" rx="3"/><text class="l" x="473" y="296.5">microscopy</text><text class="f" x="486.6" y="293.8">10</text></g>
<g id="n-diffraction" class="n"><rect x="526.2" y="198.7" width="27.7" height="6.6" rx="3"/><text class="l" x="540" y="203.5">diffraction</text><text class="f" x="554.7" y="200.8">13</text></g>
<g id="n-characteristics" class="n"><rect x="516.9" y="273.7" width="36.3" height="6.6" rx="3"/><text class="l" x="535" y="278.5">characteristics</text><text class="f" x="554" y="275.8">13</text></g>
<g id="n-application" class="n"><rect x="531.2" y="338.7" width="27.7" height="6.6" rx="3"/><text class="l" x="545" y="343.5">application</text><text class="f" x="559.7" y="340.8">13</text></g>
<g id="n-dual" class="n"><rect x="431.7" y="301.7" width="12.6" height="6.6" rx="3"/><text class="l" x="438" y="306.5">dual</text><text class="f" x="445.1" y="303.8">12</text></g>
<g id="n-monolayer" class="n"><rect x="412.3" y="313.7" width="23.4" height="6.6" rx="3"/><text class="l" x="424" y="318.5">monolayer</text></g>
<g id="n-generation" class="n"><rect x="434.3" y="336.7" width="25.5" height="6.6" rx="3"/><text class="l" x="447" y="341.5">generation</text><text class="f" x="460.6" y="338.8">13</text></g>

<g id="n-films" class="n"><rect x="345.6" y="307.7" width="14.8" height="6.6" rx="3"/><text class="l" x="353" y="312.5">films</text><text class="f" x="361.2" y="309.8">17</text></g>
<g id="n-molecular" class="n d"><rect x="356.3" y="318.7" width="23.4" height="6.6" rx="3"/><text class="l" x="368" y="323.5">molecular</text></g>
<g id="n-phosphorus" class="n"><rect x="381.3" y="334.7" width="25.5" height="6.6" rx="3"/><text class="l" x="394" y="339.5">phosphorus</text><text class="f" x="407.6" y="336.8">11</text></g>
<g id="n-nanowires" class="n"><rect x="358.3" y="354.7" width="23.4" height="6.6" rx="3"/><text class="l" x="370" y="359.5">nanowires</text><text class="f" x="382.5" y="356.8">18</text></g>
<g id="n-optical" class="n"><rect x="425.5" y="362.7" width="19.1" height="6.6" rx="3"/><text class="l" x="435" y="367.5">optical</text><text class="f" x="445.4" y="364.8">11</text></g>
<g id="n-structure" class="n"><rect x="306.3" y="371.7" width="23.4" height="6.6" rx="3"/><text class="l" x="318" y="376.5">structure</text><text class="f" x="330.5" y="373.8">11</text></g>
<g id="n-solid" class="n"><rect x="314.6" y="343.7" width="14.8" height="6.6" rx="3"/><text class="l" x="322" y="348.5">solid</text></g>
<g id="n-oxide" class="n"><rect x="315.6" y="289.7" width="14.8" height="6.6" rx="3"/><text class="l" x="323" y="294.5">oxide</text></g>
<g id="n-dna" class="n"><rect x="327.8" y="381.7" width="10.5" height="6.6" rx="3"/><text class="l" x="333" y="386.5">dna</text></g>
<g id="n-prepared" class="n"><rect x="351.4" y="385.7" width="21.2" height="6.6" rx="3"/><text class="l" x="362" y="390.5">prepared</text></g>
<g id="n-spectroscopy" class="n"><rect x="377.1" y="382.7" width="29.8" height="6.6" rx="3"/><text class="l" x="392" y="387.5">spectroscopy</text><text class="f" x="407.5" y="384.6">12</text></g>
<g id="n-surfaces" class="n"><rect x="411" y="380.7" width="21.2" height="6.6" rx="3"/><text class="l" x="421.6" y="385.5">surfaces</text><text class="f" x="433" y="382.8">16</text></g>
<g id="n-associated" class="n"><rect x="326.3" y="426.7" width="25.5" height="6.6" rx="3"/><text class="l" x="339" y="431.5">associated</text><text class="f" x="352.6" y="428.8">13</text></g>
<g id="n-chemicals" class="n"><rect x="378.3" y="431.7" width="23.4" height="6.6" rx="3"/><text class="l" x="390" y="436.5">chemicals</text><text class="f" x="402.5" y="433.8">16</text></g>

<g id="n-composite" class="n"><rect x="268.3" y="312.7" width="23.4" height="6.6" rx="3"/><text class="l" x="280" y="317.5">composite</text></g>
<g id="n-beta" class="n"><rect x="198.7" y="313.7" width="12.6" height="6.6" rx="3"/><text class="l" x="205" y="318.5">beta</text></g>
<g id="n-chitosan" class="n"><rect x="216.4" y="312.7" width="21.2" height="6.6" rx="3"/><text class="l" x="227" y="317.5">chitosan</text><text class="f" x="238.4" y="314.8">12</text></g>
<g id="n-clinical" class="n"><rect x="229.4" y="334.7" width="21.2" height="6.6" rx="3"/><text class="l" x="240" y="339.5">clinical</text></g>
<g id="n-metastases" class="n"><rect x="154.3" y="358.7" width="25.5" height="6.6" rx="3"/><text class="l" x="167" y="363.5">metastases</text><text class="f" x="180.6" y="360.8">12</text></g>
<g id="n-cancer" class="n d"><rect x="216.6" y="359.7" width="16.9" height="6.6" rx="3"/><text class="l" x="225" y="364.5">cancer</text><text class="f" x="234.3" y="361.8">20</text></g>
<g id="n-novel" class="n"><rect x="257.6" y="356.7" width="14.8" height="6.6" rx="3"/><text class="l" x="265" y="361.5">novel</text><text class="f" x="273.2" y="358.8">22</text></g>
<g id="n-fabrication" class="n"><rect x="278.2" y="360.7" width="27.7" height="6.6" rx="3"/><text class="l" x="292" y="365.5">fabrication</text><text class="f" x="306.7" y="362.8">11</text></g>
<g id="n-epidermolysis" class="n"><rect x="174" y="394.7" width="32" height="6.6" rx="3"/><text class="l" x="190" y="399.5">epidermolysis</text></g>
<g id="n-bullosa" class="n"><rect x="232.5" y="403.7" width="19.1" height="6.6" rx="3"/><text class="l" x="242" y="408.5">bullosa</text><text class="f" x="252.4" y="405.8">27</text></g>
<g id="n-dystrophic" class="n"><rect x="164.3" y="442.7" width="25.5" height="6.6" rx="3"/><text class="l" x="177" y="447.5">dystrophic</text><text class="f" x="190.6" y="444.8">14</text></g>
<g id="n-mutations" class="n"><rect x="238.3" y="446.7" width="23.4" height="6.6" rx="3"/><text class="l" x="250" y="451.5">mutations</text><text class="f" x="262.5" y="448.8">13</text></g>
<g id="n-type" class="n"><rect x="282.7" y="418.7" width="12.6" height="6.6" rx="3"/><text class="l" x="289" y="423.5">type</text><text class="f" x="296.1" y="420.8">15</text></g>
</g>

<g id="labels">
<g id="box-influenza" class="box"><rect x="28" y="46" width="135" height="47"/><text font-size="14"><tspan x="37" y="65.5">インフルエンザを</tspan><tspan x="37" y="86">対象とした研究</tspan></text></g>
<g id="box-bone" class="box"><rect x="333" y="146" width="186" height="27"/><text x="345" y="165" font-size="14.4">骨再生を対象とした研究</text></g>
<g id="box-functional" class="box"><rect x="11" y="227" width="144" height="47"/><text font-size="14.8" letter-spacing="1"><tspan x="20" y="245.5">機能性材料の医療</tspan><tspan x="20" y="267">応用に関する研究</tspan></text></g>
<g id="box-self" class="box"><rect x="459" y="302" width="181" height="28"/><text x="468" y="320.5" font-size="15.2">自己組織化に関する研究</text></g>
<g id="box-myco" class="box"><rect x="378" y="399" width="215" height="29"/><text x="387" y="418.5" font-size="14.9">根菌微生物を対象とした研究</text></g>
<g id="box-skin" class="box"><rect x="204" y="463" width="188" height="27"/><text x="213" y="482" font-size="14.5">皮膚病を対象とした研究</text></g>
</g>
</svg>
